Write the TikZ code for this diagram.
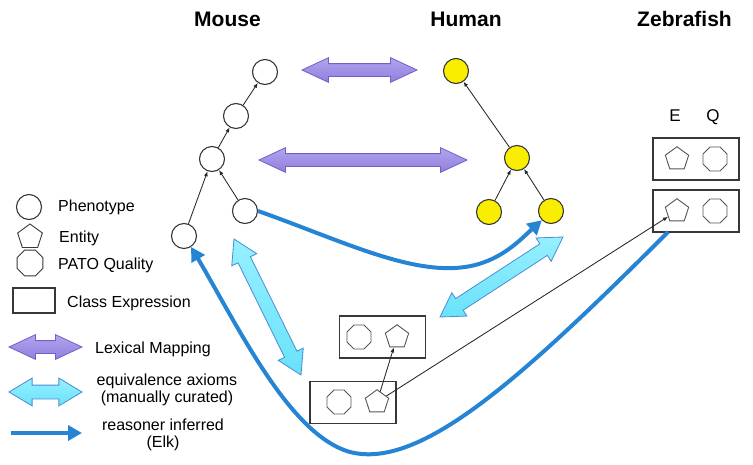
\documentclass[tikz,border=0pt]{standalone}
\usepackage{fontspec}
\setmainfont{Liberation Sans}
\usetikzlibrary{shapes.geometric,shapes.arrows,arrows.meta,calc}
\definecolor{edgegray}{RGB}{55,55,55}
\definecolor{lavfill}{RGB}{145,126,220}
\definecolor{lavtop}{RGB}{178,164,240}
\definecolor{lavedge}{RGB}{115,95,200}
\definecolor{cyfill}{RGB}{105,226,250}
\definecolor{cytop}{RGB}{150,240,255}
\definecolor{cyedge}{RGB}{75,140,210}
\definecolor{reason}{RGB}{38,132,212}
\definecolor{yel}{RGB}{250,238,0}
\newcommand{\twoway}[3]{\path let \p1=($(#3)-(#2)$), \n1={veclen(\x1,\y1)} in (#2) -- (#3) node[#1,midway,sloped,minimum height=\n1]{};}
\begin{document}
\begin{tikzpicture}[x=1pt,y=-1pt,
 phen/.style={circle,draw=edgegray,line width=1.1pt,fill=white,minimum size=25pt,inner sep=0pt},
 hphen/.style={phen,fill=yel},
 ent/.style={regular polygon,regular polygon sides=5,draw=edgegray!85,line width=0.9pt,minimum size=24.5pt,inner sep=0pt},
 qual/.style={regular polygon,regular polygon sides=8,draw=edgegray!85,line width=0.9pt,minimum size=26pt,inner sep=0pt},
 cebox/.style={rectangle,draw=edgegray,line width=1.2pt,minimum width=86pt,minimum height=42pt,inner sep=0pt},
 isa/.style={-{Latex[length=5pt,width=4pt]},line width=0.85pt,draw=black!85},
 lexarr/.style={double arrow,draw=lavedge,line width=0.8pt,top color=lavtop,bottom color=lavfill,minimum width=0pt,inner xsep=0pt,inner ysep=6pt,double arrow head extend=6pt,double arrow tip angle=50},
 eqarr/.style={double arrow,draw=cyedge,line width=0.8pt,top color=cytop,bottom color=cyfill,minimum width=0pt,inner xsep=0pt,inner ysep=6.5pt,double arrow head extend=7pt,double arrow tip angle=62},
 infer/.style={draw=reason,line width=4pt,-{Triangle[length=14pt,width=15pt]}},
 title/.style={font=\fontsize{21}{24}\selectfont\bfseries,anchor=base,inner sep=0pt},
 lab/.style={font=\fontsize{16}{17}\selectfont,anchor=base west,inner sep=0pt},
 clab/.style={font=\fontsize{16}{17}\selectfont,anchor=base,inner sep=0pt},
 eqlab/.style={font=\fontsize{17}{18}\selectfont,anchor=base,inner sep=0pt},
 ]
\useasboundingbox (0,0) rectangle (753,464);
% titles
\node[title] (tm) at (227.5,26) {Mouse};
\node[title] (th) at (466,26) {Human};
\node[title] (tz) at (684.5,26) {Zebrafish};
% mouse tree
\node[phen] (m1) at (265,72) {};
\node[phen] (m2) at (236,116) {};
\node[phen] (m3) at (212,159) {};
\node[phen] (m4) at (245,211) {};
\node[phen] (m5) at (184,236) {};
\draw[isa] (m2) -- (m1);
\draw[isa] (m3) -- (m2);
\draw[isa] (m5) -- (m3);
\draw[isa] (m4) -- (m3);
% human tree
\node[hphen] (h1) at (456,71) {};
\node[hphen] (h2) at (517,158) {};
\node[hphen] (h3) at (489,212) {};
\node[hphen] (h4) at (551,211) {};
\draw[isa] (h2) -- (h1);
\draw[isa] (h3) -- (h2);
\draw[isa] (h4) -- (h2);
% zebrafish
\node[eqlab] (le) at (675,121) {E};
\node[eqlab] (lq) at (713,121) {Q};
\node[cebox] (zb1) at (696,159) {};
\node[cebox] (zb2) at (696,211) {};
\node[ent] (ze1) at (677,159) {};
\node[qual] (zq1) at (715,159) {};
\node[ent] (ze2) at (677,211) {};
\node[qual] (zq2) at (715,211) {};
% class expressions in the middle
\node[cebox] (mb) at (382.5,337) {};
\node[qual] (mq) at (359,337) {};
\node[ent] (me) at (397,337) {};
\node[cebox] (lb) at (353,402.5) {};
\node[qual] (lbq) at (339,402) {};
\node[ent] (lbe) at (377,402) {};
\draw[isa] (lbe) -- (me);
\draw[isa] (lbe) -- (ze2);
% lexical mappings
\coordinate (a1) at (302,70); \coordinate (a2) at (417,70);
\coordinate (b1) at (259,160); \coordinate (b2) at (467,160);
\twoway{lexarr}{a1}{a2}
\twoway{lexarr}{b1}{b2}
% equivalence axioms
\coordinate (c1) at (234,239); \coordinate (c2) at (301,375);
\coordinate (d1) at (563,237); \coordinate (d2) at (440,317);
\twoway{eqarr}{c1}{c2}
\twoway{eqarr}{d1}{d2}
% reasoner inferred
\draw[infer] (m4.east) .. controls (340,240) and (410,275) .. (465,267)
   .. controls (500,262) and (520,240) .. (h4.south west);
\coordinate (zs) at (668,232);
\draw[infer] (zs) .. controls (520,380) and (420,470) .. (350,452)
   .. controls (290,435) and (240,330) .. (m5.-57);
% legend
\node[phen] (lgp) at (29,207) {};
\node[ent,draw=edgegray,minimum size=26pt] (lge) at (30,237) {};
\node[qual,draw=edgegray,minimum size=28pt] (lgq) at (30,263) {};
\node[cebox,minimum width=42pt,minimum height=25pt] (lgc) at (34,300.5) {};
\node[lab] (tp) at (58,211) {Phenotype};
\node[lab] (te) at (59,242) {Entity};
\node[lab] (tq) at (58,269) {PATO Quality};
\node[lab] (tc) at (67,307) {Class Expression};
\coordinate (l1) at (9,347); \coordinate (l2) at (82,347);
\twoway{lexarr}{l1}{l2}
\node[lab] (tl) at (95,353) {Lexical Mapping};
\coordinate (k1) at (9,392); \coordinate (k2) at (82,392);
\twoway{eqarr}{k1}{k2}
\node[clab] (tx1) at (167,385.5) {equivalence axioms};
\node[clab] (tx2) at (167,402.5) {(manually curated)};
\coordinate (r1) at (11,433); \coordinate (r2) at (82,433);
\draw[infer] (r1) -- (r2);
\node[clab] (tr1) at (163,430.5) {reasoner inferred};
\node[clab] (tr2) at (163,447) {(Elk)};
\end{tikzpicture}
\end{document}
